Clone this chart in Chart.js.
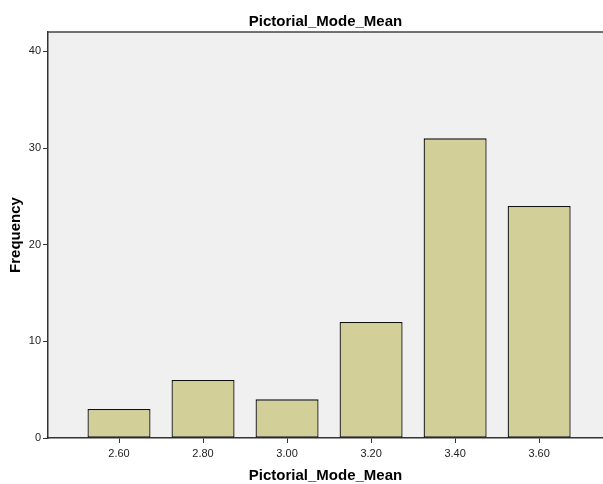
<!DOCTYPE html>
<html>
<head>
<meta charset="utf-8">
<script src="https://cdn.jsdelivr.net/npm/chart.js@4"></script>
<style>
  html, body { margin: 0; padding: 0; background: #ffffff; overflow: hidden; }
  #wrap { width: 603px; height: 484px; position: relative; }
</style>
</head>
<body>
<div id="wrap"><canvas id="histChart"></canvas></div>
<script>
// Pictorial_Mode_Mean frequencies
const categories = [2.6, 2.8, 3.0, 3.2, 3.4, 3.6];
const frequencies = [3, 6, 4, 12, 31, 24];
const yTicks = [0, 10, 20, 30, 40];

const FONT = "'Liberation Sans', Arial, sans-serif";

// gray plot background + top frame line
const plotFrame = {
    id: 'plotFrame',
    beforeDraw(chart) {
        const a = chart.chartArea;
        const ctx = chart.ctx;
        ctx.save();
        ctx.fillStyle = '#f0f0f0';
        ctx.fillRect(a.left, a.top, a.right - a.left, a.bottom - a.top);
        ctx.restore();
    },
    afterDraw(chart) {
        const a = chart.chartArea;
        const ctx = chart.ctx;
        ctx.save();
        ctx.strokeStyle = '#444';
        ctx.lineWidth = 1.5;
        ctx.beginPath();
        ctx.moveTo(a.left, a.top);
        ctx.lineTo(a.right, a.top);
        ctx.stroke();
        ctx.restore();
    }
};

new Chart(document.getElementById('histChart'), {
    type: 'bar',
    data: {
        datasets: [{
            label: 'Frequency',
            data: categories.map((c, i) => ({ x: c, y: frequencies[i] })),
            backgroundColor: '#d3cf99',
            borderColor: '#111',
            borderWidth: 1.3,
            borderSkipped: false,
            barPercentage: 0.75,
            categoryPercentage: 1
        }]
    },
    options: {
        responsive: true,
        maintainAspectRatio: false,
        animation: false,
        layout: { padding: 0 },
        plugins: {
            legend: { display: false },
            tooltip: { enabled: false },
            title: {
                display: true,
                text: 'Pictorial_Mode_Mean',
                fullSize: false,
                color: '#000',
                font: { family: FONT, size: 15, weight: 'bold', lineHeight: 1.2 },
                padding: { top: 13, bottom: 1 }
            }
        },
        scales: {
            x: {
                type: 'linear',
                offset: false,
                min: 2.431,
                max: 3.752,
                afterBuildTicks: function(axis) {
                    axis.ticks = categories.map(v => ({ value: v }));
                },
                afterFit: function(axis) {
                    axis.height = 46;
                },
                grid: {
                    offset: false,
                    drawOnChartArea: false,
                    drawTicks: true,
                    tickLength: 5,
                    color: '#333'
                },
                border: { color: '#333', width: 1.5 },
                ticks: {
                    color: '#222',
                    padding: 4,
                    maxRotation: 0,
                    font: { family: FONT, size: 11 },
                    callback: v => v.toFixed(2)
                },
                title: {
                    display: true,
                    text: 'Pictorial_Mode_Mean',
                    color: '#000',
                    font: { family: FONT, size: 15, weight: 'bold' },
                    padding: { top: 4, bottom: -1 }
                }
            },
            y: {
                min: 0,
                max: 42,
                afterBuildTicks: function(axis) {
                    axis.ticks = yTicks.map(v => ({ value: v }));
                },
                afterFit: function(axis) {
                    axis.width = 48;
                },
                grid: {
                    drawOnChartArea: false,
                    drawTicks: true,
                    tickLength: 5,
                    color: '#333'
                },
                border: { color: '#333', width: 1.5 },
                ticks: {
                    color: '#222',
                    padding: 2,
                    font: { family: FONT, size: 11 }
                },
                title: {
                    display: true,
                    text: 'Frequency',
                    color: '#000',
                    font: { family: FONT, size: 15, weight: 'bold' },
                    padding: { top: 7, bottom: 0 }
                }
            }
        }
    },
    plugins: [plotFrame]
});
</script>
</body>
</html>
